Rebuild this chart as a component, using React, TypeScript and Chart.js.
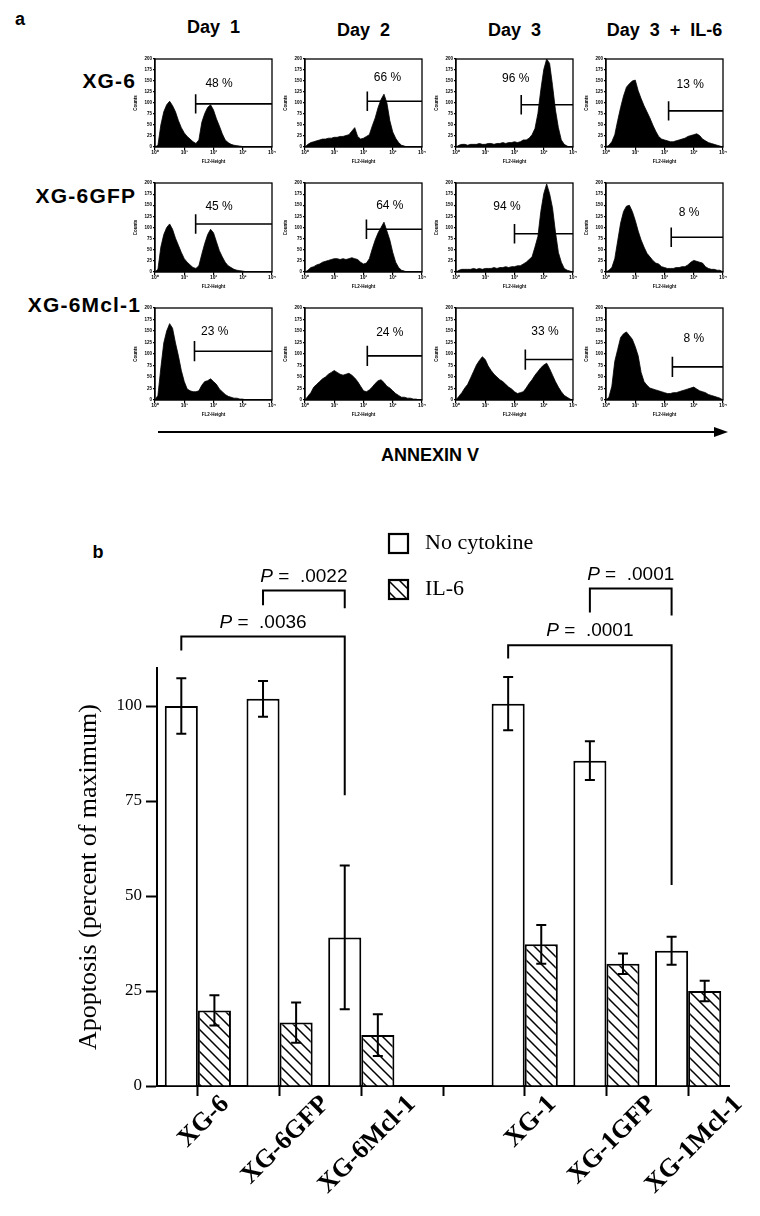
import React, { useEffect, useRef } from "react";
import { Chart, registerables } from "chart.js";

Chart.register(...registerables);

// ---------------- Panel a : flow-cytometry histograms ----------------
// FL2-Height bins (log10 decades, 10^0 .. 10^4)
const decades = [0, 0.1, 0.2, 0.3, 0.4, 0.5, 0.6, 0.7, 0.8, 0.9, 1, 1.1, 1.2, 1.3, 1.4, 1.5, 1.6, 1.7, 1.8, 1.9, 2, 2.1, 2.2, 2.3, 2.4, 2.5, 2.6, 2.7, 2.8, 2.9, 3, 3.1, 3.2, 3.3, 3.4, 3.5, 3.6, 3.7, 3.8, 3.9, 4];

const dayLabels = ["Day  1", "Day  2", "Day  3", "Day  3  +  IL-6"];
const lineLabels = ["XG-6", "XG-6GFP", "XG-6Mcl-1"];

// counts (percent of full scale) per bin
const xg6Day1 = [0, 2, 25, 40, 48, 52, 47, 40, 30, 22, 16, 12, 9, 6, 4, 8, 28, 38, 45, 48, 42, 32, 24, 15, 8, 5, 3, 2, 1.5, 1, 0.5, 0, 0, 0, 0, 0, 0, 0, 0, 0, 0];
const xg6Day2 = [0, 3, 5, 6, 7, 8, 9, 9, 10, 10, 11, 11, 12, 12, 13, 14, 18, 22, 12, 9, 10, 12, 14, 24, 33, 45, 54, 60, 50, 30, 17, 10, 5, 2, 1, 0, 0, 0, 0, 0, 0];
const xg6Day3 = [0, 2, 3, 3, 2, 3, 3, 3, 4, 3, 3, 4, 4, 3, 4, 4, 5, 4, 5, 5, 6, 5, 6, 8, 8, 10, 14, 21, 38, 65, 88, 100, 95, 70, 42, 22, 8, 3, 1, 0, 0];
const xg6Day3IL6 = [0, 2, 6, 14, 30, 45, 58, 68, 72, 75, 76, 64, 55, 47, 40, 33, 25, 18, 12, 9, 8, 7, 6, 6, 7, 8, 9, 10, 12, 13, 14, 15, 13, 9, 7, 5, 4, 3, 2, 1, 0];

const gfpDay1 = [0, 3, 28, 42, 50, 54, 48, 38, 30, 22, 15, 11, 8, 5, 4, 7, 20, 32, 42, 48, 44, 34, 24, 17, 11, 7, 5, 3, 2, 1.5, 1, 0.5, 0, 0, 0, 0, 0, 0, 0, 0, 0];
const gfpDay2 = [0, 2, 5, 6, 8, 9, 11, 12, 13, 14, 15, 15, 14, 15, 14, 15, 16, 15, 14, 11, 9, 10, 15, 26, 36, 44, 50, 56, 46, 36, 22, 11, 5, 2, 1, 0, 0, 0, 0, 0, 0];
const gfpDay3 = [0, 2, 3, 3, 3, 3, 4, 3, 4, 3, 4, 4, 4, 5, 4, 5, 5, 6, 5, 6, 6, 7, 7, 9, 11, 14, 17, 28, 40, 68, 88, 99, 88, 72, 45, 22, 11, 4, 2, 1, 0];
const gfpDay3IL6 = [0, 2, 5, 15, 35, 55, 68, 74, 75, 68, 58, 46, 36, 28, 21, 17, 13, 10, 9, 6, 5, 4, 4, 4, 5, 5, 6, 6, 8, 11, 13, 12, 11, 10, 6, 4, 3, 3, 2, 2, 0];

const mclDay1 = [0, 5, 35, 62, 75, 83, 78, 62, 48, 32, 20, 12, 10, 9, 9, 10, 16, 20, 21, 23, 20, 17, 12, 9, 6, 4, 3, 2, 2, 1, 1, 0, 0, 0, 0, 0, 0, 0, 0, 0, 0];
const mclDay2 = [0, 4, 8, 14, 17, 20, 23, 25, 28, 30, 32, 30, 28, 27, 28, 29, 27, 24, 20, 15, 10, 9, 11, 14, 18, 21, 22, 19, 15, 13, 10, 7, 5, 3, 3, 2, 2, 1, 1, 0, 0];
const mclDay3 = [0, 4, 8, 13, 17, 24, 31, 38, 43, 47, 44, 37, 32, 28, 25, 22, 20, 17, 14, 12, 9, 7, 8, 9, 13, 18, 22, 27, 31, 35, 38, 40, 34, 27, 20, 14, 9, 5, 3, 1, 0];
const mclDay3IL6 = [0, 3, 15, 42, 55, 68, 72, 74, 70, 66, 58, 48, 30, 20, 16, 13, 12, 11, 10, 9, 8, 7, 7, 8, 8, 9, 10, 11, 12, 13, 14, 12, 10, 9, 8, 6, 5, 4, 3, 2, 0];

const HIST_GRID = [
  [xg6Day1, xg6Day2, xg6Day3, xg6Day3IL6],
  [gfpDay1, gfpDay2, gfpDay3, gfpDay3IL6],
  [mclDay1, mclDay2, mclDay3, mclDay3IL6],
];

// marker gate: start (decade), level (count), percent label
const gateFrom = [[1.39, 2.13, 2.23, 2.14], [1.39, 2.1, 2.0, 2.23], [1.35, 2.13, 2.37, 2.27]];
const gateLevel = [[49, 52, 48, 41], [54, 48, 43, 39], [53, 48, 44, 36]];
const gatePercent = [["48 %", "66 %", "96 %", "13 %"], ["45 %", "64 %", "94 %", "8 %"], ["23 %", "24 %", "33 %", "8 %"]];
const percentAt = [[2.19, 2.82, 2.04, 2.88], [2.19, 2.9, 1.74, 2.84], [2.04, 2.9, 3.04, 3.0]];
const percentLevel = [[72, 79, 78, 71], [73, 74, 73, 67], [74, 73, 74, 67]];

// ---------------- Panel b : bar chart ----------------
const groups = ["XG-6", "XG-6GFP", "XG-6Mcl-1", "", "XG-1", "XG-1GFP", "XG-1Mcl-1"];
const noCytokine = [100, 101.9, 39.1, null, 100.6, 85.6, 35.6];
const noCytokineErr = [7.3, 4.7, 18.9, null, 7.0, 5.1, 3.7];
const il6 = [19.9, 16.7, 13.4, null, 37.3, 32.2, 25.0];
const il6Err = [4.0, 5.3, 5.5, null, 5.1, 2.7, 2.7];
const seriesNames = ["No cytokine", "IL-6"];
const yTickStep = 25;

// P-value brackets: group indices, bracket top, leg ends (in % of maximum)
const cmpFrom = [0, 1, 4, 5];
const cmpTo = [2, 2, 6, 6];
const cmpP = [".0036", ".0022", ".0001", ".0001"];
const cmpTop = [118.3, 130.4, 116.0, 130.9];
const cmpLeftEnd = [114.6, 126.5, 112.5, 124.6];
const cmpRightEnd = [76.5, 125.7, 52.9, 123.8];

// ---------------- layout / style ----------------
const SANS = "'Liberation Sans', Arial, Helvetica, sans-serif";
const SERIF = "'Liberation Serif', 'Times New Roman', serif";
const SUP = ["\u2070", "\u00b9", "\u00b2", "\u00b3", "\u2074"];

const COL_LEFT = [155, 305, 456, 606];
const BOX_W = 117;
const ROW_TOP = [59, 183, 308];
const ROW_H = [88, 89, 92];
const AX_W = 22;
const AX_H = 17;
const PAD_T = 4;
const PAD_R = 5;

const BAR_TOP = 500;
const BAR_W = 760;
const BAR_H = 716;

function Histogram({ row, col }: { row: number; col: number }) {
  const ref = useRef<HTMLCanvasElement>(null);
  const w = BOX_W + AX_W + PAD_R;
  const h = ROW_H[row] + PAD_T + AX_H;
  useEffect(() => {
    const counts = HIST_GRID[row][col];
    const gatePlugin = {
      id: "gate",
      afterDraw(chart: any) {
        const { ctx, chartArea: a, scales } = chart;
        const xs = scales.x;
        const ys = scales.y;
        ctx.save();
        ctx.strokeStyle = "#000";
        ctx.lineWidth = 1.3;
        ctx.strokeRect(a.left, a.top, a.right - a.left, a.bottom - a.top);
        const lvl = gateLevel[row][col];
        const gx = xs.getPixelForValue(gateFrom[row][col]);
        const gxe = xs.getPixelForValue(4);
        const gy = ys.getPixelForValue(lvl);
        ctx.lineWidth = 1.6;
        ctx.beginPath();
        ctx.moveTo(gx, gy);
        ctx.lineTo(gxe, gy);
        ctx.moveTo(gx, ys.getPixelForValue(lvl + 11));
        ctx.lineTo(gx, ys.getPixelForValue(lvl - 11));
        ctx.stroke();
        ctx.fillStyle = "#000";
        ctx.font = `12px ${SANS}`;
        ctx.textAlign = "center";
        ctx.textBaseline = "middle";
        ctx.fillText(
          gatePercent[row][col],
          xs.getPixelForValue(percentAt[row][col]),
          ys.getPixelForValue(percentLevel[row][col])
        );
        ctx.restore();
      },
    };
    const chart = new Chart(ref.current as HTMLCanvasElement, {
      type: "line",
      data: {
        datasets: [
          {
            data: decades.map((d, i) => ({ x: d, y: counts[i] })),
            fill: "origin",
            backgroundColor: "#000",
            borderColor: "#000",
            borderWidth: 0.8,
            pointRadius: 0,
            tension: 0,
          },
        ],
      },
      options: {
        animation: false,
        responsive: false,
        events: [],
        layout: { padding: { top: PAD_T, right: PAD_R, left: 0, bottom: 0 } },
        plugins: { legend: { display: false }, tooltip: { enabled: false } },
        scales: {
          x: {
            type: "linear",
            min: 0,
            max: 4,
            afterFit: (s: any) => {
              s.height = AX_H;
            },
            ticks: {
              stepSize: 1,
              maxRotation: 0,
              padding: 0,
              color: "#000",
              font: { size: 5, family: SANS, weight: "bold" },
              callback: (v: any) => "10" + SUP[Number(v)],
            },
            grid: { display: true, drawOnChartArea: false, tickLength: 3, color: "#000", lineWidth: 1.2 },
            border: { display: true, color: "#000", width: 1.3 },
            title: { display: true, text: "FL2-Height", color: "#000", font: { size: 4.5, family: SANS, weight: "bold" }, padding: 0 },
          },
          y: {
            min: 0,
            max: 100,
            afterFit: (s: any) => {
              s.width = AX_W;
            },
            ticks: {
              stepSize: 12.5,
              padding: 1,
              color: "#000",
              font: { size: 4.5, family: SANS, weight: "bold" },
              callback: (v: any) => String(Math.round(Number(v) * 2)),
            },
            grid: { display: true, drawOnChartArea: false, tickLength: 2, color: "#000", lineWidth: 1.2 },
            border: { display: true, color: "#000", width: 1.3 },
            title: { display: true, text: "Counts", color: "#000", font: { size: 4.5, family: SANS, weight: "bold" }, padding: 0 },
          },
        },
      },
      plugins: [gatePlugin],
    } as any);
    return () => chart.destroy();
  }, [row, col]);
  return (
    <canvas
      ref={ref}
      width={w}
      height={h}
      style={{ position: "absolute", left: COL_LEFT[col] - AX_W, top: ROW_TOP[row] - PAD_T, width: w, height: h }}
    />
  );
}

function makeHatch(): CanvasPattern | string {
  const c = document.createElement("canvas");
  const s = 11;
  c.width = s;
  c.height = s;
  const g = c.getContext("2d");
  if (!g) return "#fff";
  g.fillStyle = "#fff";
  g.fillRect(0, 0, s, s);
  g.strokeStyle = "#000";
  g.lineWidth = 1.5;
  g.beginPath();
  g.moveTo(-2, -2);
  g.lineTo(s + 2, s + 2);
  g.moveTo(-2, s - 2);
  g.lineTo(2, s + 2);
  g.moveTo(s - 2, -2);
  g.lineTo(s + 2, 2);
  g.stroke();
  return g.createPattern(c, "repeat") || "#fff";
}

function BarPanel() {
  const ref = useRef<HTMLCanvasElement>(null);
  useEffect(() => {
    const hatch = makeHatch();
    const errs = [noCytokineErr, il6Err];
    const vals = [noCytokine, il6];

    const errorPlugin = {
      id: "errorbars",
      afterDatasetsDraw(chart: any) {
        const { ctx } = chart;
        const ys = chart.scales.y;
        ctx.save();
        ctx.strokeStyle = "#000";
        ctx.lineWidth = 2;
        for (let d = 0; d < 2; d++) {
          const meta = chart.getDatasetMeta(d);
          meta.data.forEach((el: any, i: number) => {
            const v = vals[d][i];
            const e = errs[d][i];
            if (v == null || e == null) return;
            const x = el.x;
            const y1 = ys.getPixelForValue(v + e);
            const y2 = ys.getPixelForValue(v - e);
            ctx.beginPath();
            ctx.moveTo(x, y1);
            ctx.lineTo(x, y2);
            ctx.moveTo(x - 5, y1);
            ctx.lineTo(x + 5, y1);
            ctx.moveTo(x - 5, y2);
            ctx.lineTo(x + 5, y2);
            ctx.stroke();
          });
        }
        ctx.restore();
      },
    };

    const annotPlugin = {
      id: "annot",
      afterDraw(chart: any) {
        const { ctx } = chart;
        const xs = chart.scales.x;
        const ys = chart.scales.y;
        const white = chart.getDatasetMeta(0).data;
        ctx.save();
        ctx.strokeStyle = "#000";
        ctx.fillStyle = "#000";
        ctx.lineWidth = 2;
        // brackets
        for (let k = 0; k < cmpP.length; k++) {
          const xl = white[cmpFrom[k]].x;
          const xr = white[cmpTo[k]].x;
          const yt = ys.getPixelForValue(cmpTop[k]);
          ctx.beginPath();
          ctx.moveTo(xl, ys.getPixelForValue(cmpLeftEnd[k]));
          ctx.lineTo(xl, yt);
          ctx.lineTo(xr, yt);
          ctx.lineTo(xr, ys.getPixelForValue(cmpRightEnd[k]));
          ctx.stroke();
          const pPart = "P";
          const rest = " =  " + cmpP[k];
          ctx.font = `italic 19px ${SANS}`;
          const w1 = ctx.measureText(pPart).width;
          ctx.font = `19px ${SANS}`;
          const w2 = ctx.measureText(rest).width;
          const cx = (xl + xr) / 2;
          const x0 = cx - (w1 + w2) / 2;
          ctx.textBaseline = "middle";
          ctx.textAlign = "left";
          ctx.font = `italic 19px ${SANS}`;
          ctx.fillText(pPart, x0, yt - 14);
          ctx.font = `19px ${SANS}`;
          ctx.fillText(rest, x0 + w1, yt - 14);
        }
        // legend
        const lx = 389;
        const ly = [34, 80];
        const sq = 19;
        for (let d = 0; d < 2; d++) {
          ctx.fillStyle = d === 0 ? "#fff" : hatch;
          ctx.fillRect(lx, ly[d], sq, sq);
          ctx.lineWidth = 2.2;
          ctx.strokeRect(lx, ly[d], sq, sq);
          ctx.fillStyle = "#000";
          ctx.font = `22px ${SERIF}`;
          ctx.textAlign = "left";
          ctx.textBaseline = "middle";
          ctx.fillText(seriesNames[d], 425, ly[d] + sq / 2);
        }
        // rotated category labels
        ctx.font = `bold 26px ${SERIF}`;
        groups.forEach((g, i) => {
          if (!g) return;
          const x = xs.getPixelForValue(i);
          const tw = ctx.measureText(g).width;
          const top = xs.top + 8;
          const cy = top + (tw + 18) * 0.3536;
          ctx.save();
          ctx.translate(x + 6, cy);
          ctx.rotate(-Math.PI / 4);
          ctx.textAlign = "center";
          ctx.textBaseline = "middle";
          ctx.fillText(g, 0, 0);
          ctx.restore();
        });
        ctx.restore();
      },
    };

    const chart = new Chart(ref.current as HTMLCanvasElement, {
      type: "bar",
      data: {
        labels: groups,
        datasets: [
          {
            label: seriesNames[0],
            data: noCytokine,
            backgroundColor: "#fff",
            borderColor: "#000",
            borderWidth: 2,
            categoryPercentage: 0.81,
            barPercentage: 1,
          },
          {
            label: seriesNames[1],
            data: il6,
            backgroundColor: hatch,
            borderColor: "#000",
            borderWidth: 2,
            categoryPercentage: 0.81,
            barPercentage: 1,
          },
        ],
      },
      options: {
        animation: false,
        responsive: false,
        events: [],
        layout: { padding: { left: 74, right: 31, top: 168, bottom: 0 } },
        plugins: { legend: { display: false }, tooltip: { enabled: false } },
        scales: {
          x: {
            type: "category",
            offset: true,
            afterFit: (s: any) => {
              s.height = 130;
            },
            ticks: { display: false },
            grid: { display: true, offset: false, drawOnChartArea: false, tickLength: 10, tickColor: "#000", tickWidth: 2, color: "#000" },
            border: { display: true, color: "#000", width: 2 },
          },
          y: {
            min: 0,
            max: 110,
            afterFit: (s: any) => {
              s.width = 157 - 74;
            },
            ticks: {
              stepSize: yTickStep,
              includeBounds: false,
              color: "#000",
              padding: 4,
              font: { family: SERIF, size: 17 },
            },
            grid: { display: true, drawOnChartArea: false, tickLength: 11, tickColor: "#000", tickWidth: 2, color: "#000" },
            border: { display: true, color: "#000", width: 2 },
            title: {
              display: true,
              text: "Apoptosis (percent of maximum)",
              color: "#000",
              font: { family: SERIF, size: 26 },
              padding: { top: 0, bottom: 0 },
            },
          },
        },
      },
      plugins: [errorPlugin, annotPlugin],
    } as any);
    return () => chart.destroy();
  }, []);
  return (
    <canvas
      ref={ref}
      width={BAR_W}
      height={BAR_H}
      style={{ position: "absolute", left: 0, top: BAR_TOP, width: BAR_W, height: BAR_H }}
    />
  );
}

const centered = (x: number, y: number, extra: React.CSSProperties = {}): React.CSSProperties => ({
  position: "absolute",
  left: x,
  top: y,
  transform: "translate(-50%, -50%)",
  whiteSpace: "pre",
  lineHeight: 1,
  ...extra,
});

export default function App() {
  const headX = COL_LEFT.map((l) => l + BOX_W / 2);
  const headY = [27, 30, 30, 30];
  const rowLabelY = [81, 196, 305];
  const rowLabelRight = [135, 135, 140];
  return (
    <div
      style={{
        position: "absolute",
        left: 0,
        top: 0,
        width: 760,
        height: 1216,
        background: "#fff",
        color: "#000",
        fontFamily: SANS,
        overflow: "hidden",
      }}
    >
      <div style={centered(20, 19, { fontWeight: "bold", fontSize: 18 })}>a</div>
      {dayLabels.map((d, i) => (
        <div key={d} style={centered(headX[i], headY[i], { fontWeight: "bold", fontSize: 18 })}>
          {d}
        </div>
      ))}
      {lineLabels.map((l, r) => (
        <div
          key={l}
          style={{
            position: "absolute",
            right: 760 - rowLabelRight[r] - 1.2,
            top: rowLabelY[r] - 11,
            fontWeight: "bold",
            fontSize: 21,
            letterSpacing: 1.2,
            lineHeight: "22px",
            whiteSpace: "pre",
          }}
        >
          {l}
        </div>
      ))}
      {HIST_GRID.map((rowArr, r) =>
        rowArr.map((_, c) => <Histogram key={`${r}-${c}`} row={r} col={c} />)
      )}
      <svg width={760} height={30} style={{ position: "absolute", left: 0, top: 418 }}>
        <line x1={158} y1={14} x2={718} y2={14} stroke="#000" strokeWidth={2} />
        <polygon points="728,14 714,9 714,19" fill="#000" />
      </svg>
      <div style={centered(430, 455, { fontWeight: "bold", fontSize: 18 })}>ANNEXIN V</div>
      <div style={centered(98, 552, { fontWeight: "bold", fontSize: 18 })}>b</div>
      <BarPanel />
    </div>
  );
}
